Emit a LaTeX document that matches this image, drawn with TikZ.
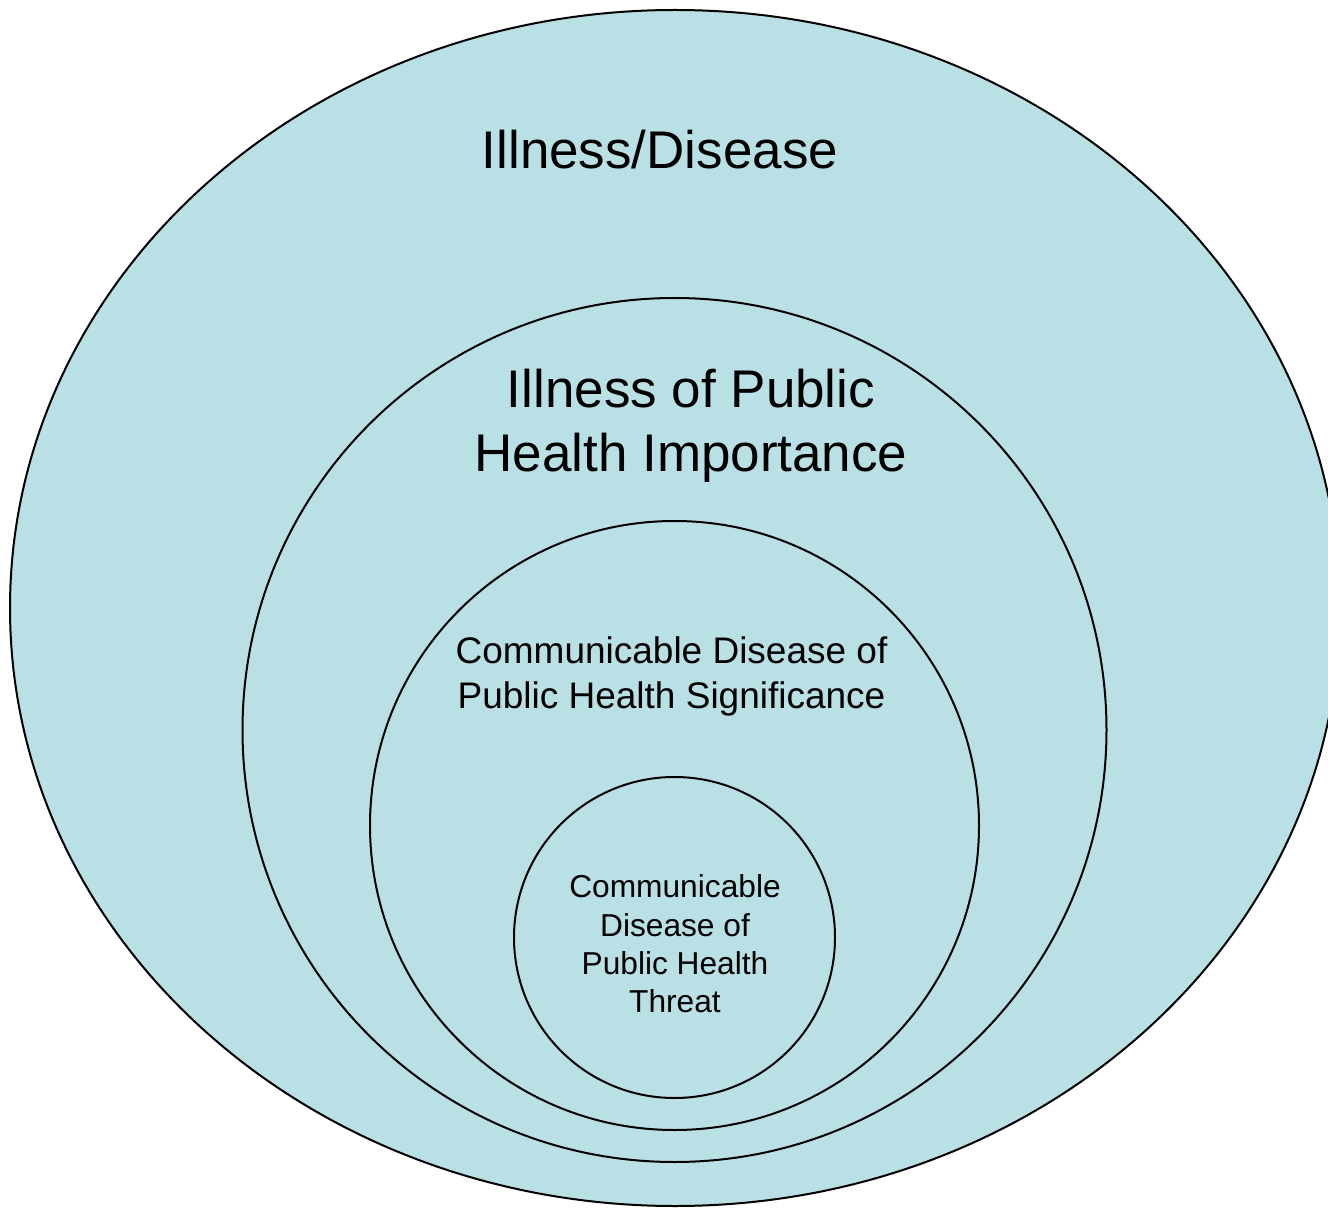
\documentclass[tikz,border=0pt]{standalone}
\usepackage{fontspec}
\setmainfont{Liberation Sans}
\definecolor{ringfill}{HTML}{B9E0E4}
\tikzset{
  ring/.style={draw=black, line width=1pt, fill=ringfill},
  ringlabel/.style={align=center, inner sep=0pt, text=black}
}
\begin{document}
\begin{tikzpicture}[x=0.5pt,y=-0.5pt]
\useasboundingbox (0,0) rectangle (1328,1208);
\clip (0,0) rectangle (1328,1208);
\coordinate (C0) at (675,608);
\coordinate (C1) at (674.5,730);
\coordinate (C2) at (674.5,825.5);
\coordinate (C3) at (674.5,937.5);
\draw [ring] (C0) ellipse [x radius=665, y radius=598];
\draw [ring] (C1) circle (432);
\draw [ring] (C2) circle (304.5);
\draw [ring] (C3) circle (160.5);
\node [ringlabel, font=\fontsize{26.5}{31.75}\selectfont] (illness) at (660,150) {Illness/Disease};
\node [ringlabel, font=\fontsize{26.5}{31.75}\selectfont] (importance) at (691,426) {Illness of Public\\Health Importance};
\node [ringlabel, font=\fontsize{18.5}{22.5}\selectfont] (significance) at (671.5,676) {Communicable Disease of\\Public Health Significance};
\node [ringlabel, font=\fontsize{15.85}{19.15}\selectfont] (threat) at (675,944) {Communicable\\Disease of\\Public Health\\Threat};
\end{tikzpicture}
\end{document}
